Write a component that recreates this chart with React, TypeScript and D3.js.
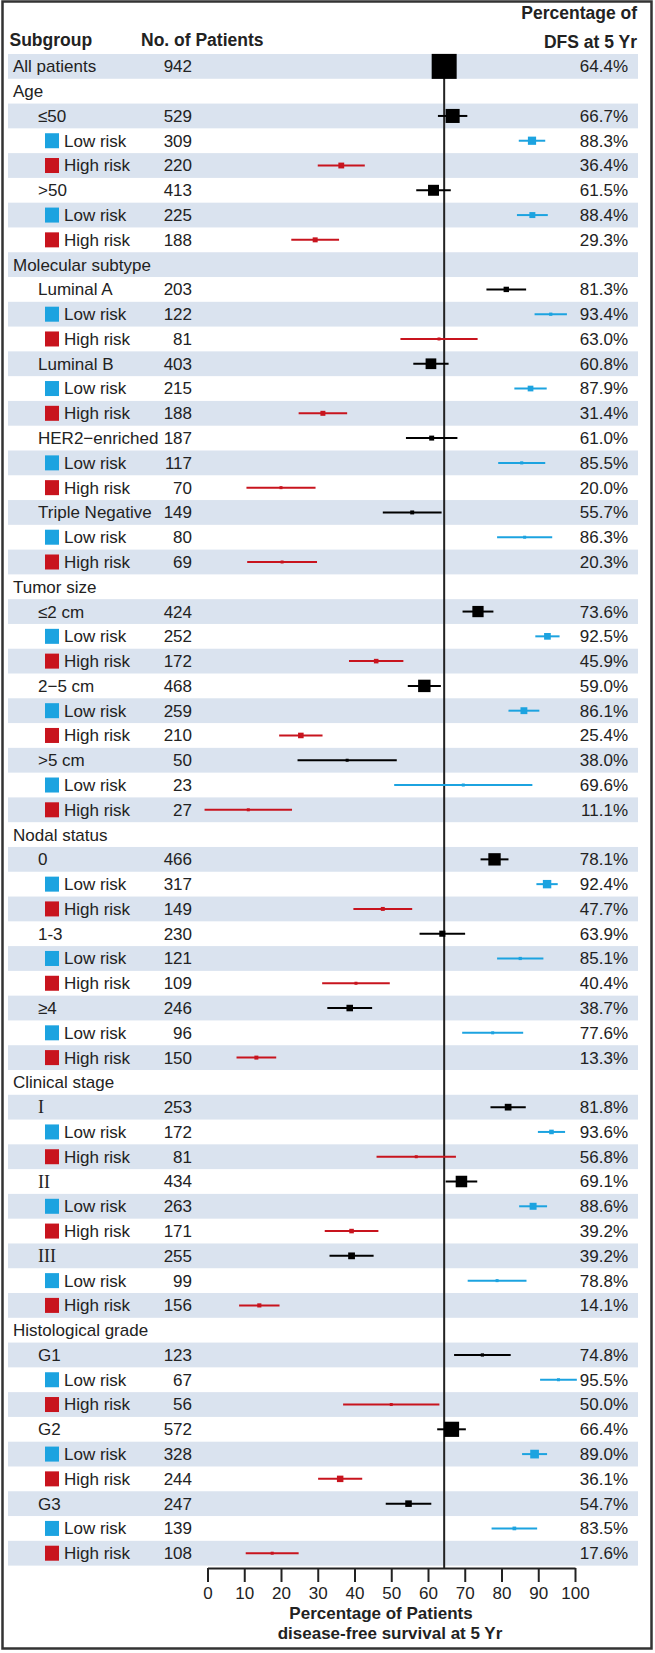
import { useEffect, useRef } from 'react';
import * as d3 from 'd3';

// Rows, top to bottom
const labels = ['All patients', 'Age', '≤50', 'Low risk', 'High risk', '>50', 'Low risk', 'High risk',
  'Molecular subtype', 'Luminal A', 'Low risk', 'High risk', 'Luminal B', 'Low risk', 'High risk',
  'HER2−enriched', 'Low risk', 'High risk', 'Triple Negative', 'Low risk', 'High risk',
  'Tumor size', '≤2 cm', 'Low risk', 'High risk', '2−5 cm', 'Low risk', 'High risk', '>5 cm', 'Low risk', 'High risk',
  'Nodal status', '0', 'Low risk', 'High risk', '1-3', 'Low risk', 'High risk', '≥4', 'Low risk', 'High risk',
  'Clinical stage', 'I', 'Low risk', 'High risk', 'II', 'Low risk', 'High risk', 'III', 'Low risk', 'High risk',
  'Histological grade', 'G1', 'Low risk', 'High risk', 'G2', 'Low risk', 'High risk', 'G3', 'Low risk', 'High risk'];

const kinds = ['top', 'head', 'sub', 'low', 'high', 'sub', 'low', 'high',
  'head', 'sub', 'low', 'high', 'sub', 'low', 'high', 'sub', 'low', 'high', 'sub', 'low', 'high',
  'head', 'sub', 'low', 'high', 'sub', 'low', 'high', 'sub', 'low', 'high',
  'head', 'sub', 'low', 'high', 'sub', 'low', 'high', 'sub', 'low', 'high',
  'head', 'sub', 'low', 'high', 'sub', 'low', 'high', 'sub', 'low', 'high',
  'head', 'sub', 'low', 'high', 'sub', 'low', 'high', 'sub', 'low', 'high'];

const patients = [942, null, 529, 309, 220, 413, 225, 188,
  null, 203, 122, 81, 403, 215, 188, 187, 117, 70, 149, 80, 69,
  null, 424, 252, 172, 468, 259, 210, 50, 23, 27,
  null, 466, 317, 149, 230, 121, 109, 246, 96, 150,
  null, 253, 172, 81, 434, 263, 171, 255, 99, 156,
  null, 123, 67, 56, 572, 328, 244, 247, 139, 108];

const dfs = [64.4, null, 66.7, 88.3, 36.4, 61.5, 88.4, 29.3,
  null, 81.3, 93.4, 63.0, 60.8, 87.9, 31.4, 61.0, 85.5, 20.0, 55.7, 86.3, 20.3,
  null, 73.6, 92.5, 45.9, 59.0, 86.1, 25.4, 38.0, 69.6, 11.1,
  null, 78.1, 92.4, 47.7, 63.9, 85.1, 40.4, 38.7, 77.6, 13.3,
  null, 81.8, 93.6, 56.8, 69.1, 88.6, 39.2, 39.2, 78.8, 14.1,
  null, 74.8, 95.5, 50.0, 66.4, 89.0, 36.1, 54.7, 83.5, 17.6];

const lower = [61.3, null, 62.7, 84.7, 30.0, 56.8, 84.2, 22.8,
  null, 75.9, 89.0, 52.5, 56.0, 83.5, 24.8, 54.0, 79.1, 10.6, 47.7, 78.8, 10.8,
  null, 69.4, 89.2, 38.5, 54.5, 81.9, 19.5, 24.5, 50.8, -0.8,
  null, 74.3, 89.5, 39.7, 57.7, 78.8, 31.2, 32.6, 69.3, 7.9,
  null, 77.0, 89.9, 46.0, 64.8, 84.8, 31.9, 33.2, 70.8, 8.6,
  null, 67.1, 90.5, 36.9, 62.5, 85.6, 30.1, 48.5, 77.3, 10.4];

const upper = [67.5, null, 70.7, 91.9, 42.8, 66.2, 92.6, 35.8,
  null, 86.7, 97.8, 73.5, 65.6, 92.3, 38.0, 68.0, 91.9, 29.4, 63.7, 93.8, 29.8,
  null, 77.8, 95.8, 53.3, 63.5, 90.3, 31.3, 51.5, 88.4, 23.0,
  null, 81.9, 95.3, 55.7, 70.1, 91.4, 49.6, 44.8, 85.9, 18.7,
  null, 86.6, 97.3, 67.6, 73.4, 92.4, 46.5, 45.2, 86.8, 19.6,
  null, 82.5, 100.5, 63.1, 70.3, 92.4, 42.1, 60.9, 89.7, 24.8];

const tickValues = [0, 10, 20, 30, 40, 50, 60, 70, 80, 90, 100];
const overall = 64.4;

const FONT = 'Liberation Sans, Arial, Helvetica, sans-serif';
const SERIF = 'Liberation Serif, Times New Roman, serif';
const romans = ['I', 'II', 'III'];
const colors = { top: '#000', sub: '#000', low: '#1ca3e0', high: '#c8141e' };

const App = () => {
  const axisRef = useRef(null);

  const width = 655, height = 1653;
  const axisY = 1568;

  const x = d3.scaleLinear().domain([0, 100]).range([207.5, 575]);
  const y = d3.scaleBand().domain(d3.range(labels.length)).range([54, 1565.6]);
  const size = d3.scaleLinear().domain([0, 942]).range([0, 25]);
  const cy = (i) => y(i) + y.bandwidth() / 2;

  useEffect(() => {
    const g = d3.select(axisRef.current);
    g.selectAll('*').remove();
    g.call(d3.axisBottom(x).tickValues(tickValues).tickSize(14).tickPadding(5).tickSizeOuter(0));
    g.attr('font-size', 17).attr('font-family', FONT);
    g.selectAll('path, line').attr('stroke', '#222').attr('stroke-width', 2);
    g.selectAll('text').attr('fill', '#222');
  }, []);

  return (
    <svg width={width} height={height} style={{ position: 'absolute', left: 0, top: 0 }}
      fontFamily={FONT} fontSize={17}>
      <rect width={width} height={height} fill="#fff" />
      <rect x={2.5} y={1.5} width={649} height={1647} fill="none" stroke="#333" strokeWidth={2.5} />

      {/* row shading */}
      {labels.map((d, i) => i % 2 === 0 && (
        <rect key={'bg' + i} x={8} y={y(i)} width={630} height={y.bandwidth()} fill="#dae3ef" />
      ))}

      {/* headers */}
      <g fontWeight="bold" fill="#222" fontSize={17.5}>
        <text x={9.5} y={40} dy="0.35em">Subgroup</text>
        <text x={141} y={40} dy="0.35em">No. of Patients</text>
        <text x={637} y={13} dy="0.35em" textAnchor="end">Percentage of</text>
        <text x={637} y={42} dy="0.35em" textAnchor="end">DFS at 5 Yr</text>
      </g>

      {/* reference line */}
      <line x1={x(overall)} x2={x(overall)} y1={cy(0)} y2={axisY} stroke="#222" strokeWidth={2} />

      {labels.map((d, i) => {
        const k = kinds[i];
        const c = cy(i);
        const risk = k === 'low' || k === 'high';
        const lx = k === 'top' || k === 'head' ? 13 : k === 'sub' ? 38 : 64;
        const serif = romans.includes(d);
        return (
          <g key={'row' + i} fill="#222">
            {risk && <rect x={45} y={c - 7.5} width={14} height={15} fill={colors[k]} />}
            <text x={lx} y={c} dy="0.35em" fontFamily={serif ? SERIF : undefined}
              fontSize={serif ? 18 : undefined}>{d}</text>
            {patients[i] != null && <text x={192} y={c} dy="0.35em" textAnchor="end">{patients[i]}</text>}
            {dfs[i] != null && <text x={628} y={c} dy="0.35em" textAnchor="end">{dfs[i].toFixed(1)}%</text>}
            {dfs[i] != null && (
              <g>
                <line x1={x(lower[i])} x2={x(upper[i])} y1={c} y2={c} stroke={colors[k]} strokeWidth={2} />
                {(() => {
                  const s = Math.max(3, size(patients[i]));
                  return <rect x={x(dfs[i]) - s / 2} y={c - s / 2} width={s} height={s} fill={colors[k]} />;
                })()}
              </g>
            )}
          </g>
        );
      })}

      <g ref={axisRef} transform={`translate(0,${axisY})`} />

      <g fontWeight="bold" fill="#222" textAnchor="middle">
        <text x={381} y={1613} dy="0.35em">Percentage of Patients</text>
        <text x={390} y={1633} dy="0.35em">disease-free survival at 5 Yr</text>
      </g>
    </svg>
  );
};

export default App;
